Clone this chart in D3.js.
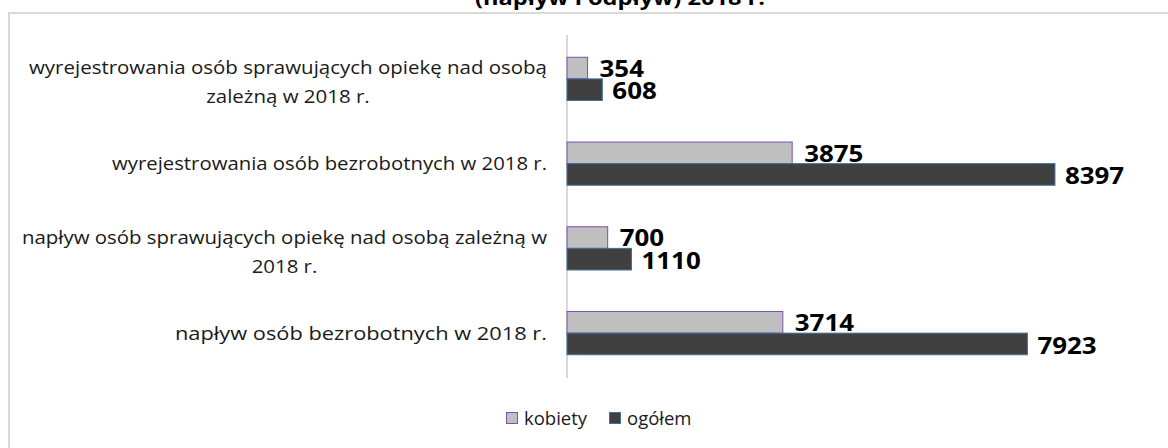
<!DOCTYPE html>
<html>
<head>
<meta charset="utf-8">
<script src="https://cdn.jsdelivr.net/npm/d3@7"></script>
<style>
  body { margin: 0; background: #fff; }
  svg { display: block; font-family: "Open Sans", "Noto Sans", sans-serif; }
</style>
</head>
<body>
<svg width="1168" height="448"></svg>
<script>
// dane
var kategorie = [
  "wyrejestrowania osób sprawujących opiekę nad osobą|zależną w 2018 r.",
  "wyrejestrowania osób bezrobotnych w 2018 r.",
  "napływ osób sprawujących opiekę nad osobą zależną w|2018 r.",
  "napływ osób bezrobotnych w 2018 r."
];
var kobiety = [354, 3875, 700, 3714];
var ogolem = [608, 8397, 1110, 7923];
var serie = ["kobiety", "ogółem"];
var tytul = "(napływ i odpływ) 2018 r.";

var svg = d3.select("svg"),
  width = +svg.attr("width"),
  height = +svg.attr("height");

var kolory = { kobiety: "#bfbfbf", "ogółem": "#404040" };
var obrys = { kobiety: "#7f4fb0", "ogółem": "#41719c" };

// ramka wykresu
svg.append("rect")
  .attr("x", 9).attr("y", 13)
  .attr("width", width + 20).attr("height", height + 20)
  .attr("fill", "none")
  .attr("stroke", "#d9d9d9")
  .attr("stroke-width", 2);

// tytul (przyciety u gory)
svg.append("text")
  .attr("x", 620).attr("y", 5)
  .attr("text-anchor", "middle")
  .attr("font-weight", "bold")
  .attr("font-size", 19)
  .attr("textLength", 290)
  .attr("lengthAdjust", "spacingAndGlyphs")
  .text(tytul);

var x = d3.scaleLinear().domain([0, 9000]).range([567, 1090]);
var y = d3.scaleBand().domain(d3.range(kategorie.length)).range([36.5, 375.5]).paddingInner(0.49).paddingOuter(0.245);
var y2 = d3.scaleBand().domain(serie).range([0, y.bandwidth()]);

// os
svg.append("line")
  .attr("x1", x(0)).attr("x2", x(0))
  .attr("y1", 35).attr("y2", 378)
  .attr("stroke", "#d9d9d9")
  .attr("stroke-width", 2);

var grupy = svg.append("g").selectAll("g")
  .data(kategorie)
  .enter().append("g")
  .attr("transform", function(d, i) { return "translate(0," + y(i) + ")"; });

grupy.each(function(d, i) {
  var g = d3.select(this);
  var wartosci = [kobiety[i], ogolem[i]];
  serie.forEach(function(s, j) {
    g.append("rect")
      .attr("x", x(0))
      .attr("y", y2(s))
      .attr("width", x(wartosci[j]) - x(0))
      .attr("height", y2.bandwidth())
      .attr("fill", kolory[s])
      .attr("stroke", obrys[s])
      .attr("stroke-width", 1);
    var napis = String(wartosci[j]);
    g.append("text")
      .attr("x", x(wartosci[j]) + (j === 0 ? 12 : 10))
      .attr("y", y2(s) + y2.bandwidth() / 2)
      .attr("dy", j === 0 ? "0.38em" : "0.42em")
      .attr("font-weight", "bold")
      .attr("font-size", 23)
      .attr("textLength", napis.length * 14.8)
      .attr("lengthAdjust", "spacingAndGlyphs")
      .attr("fill", "#000")
      .text(napis);
  });
});

// etykiety kategorii
kategorie.forEach(function(k, i) {
  var linie = k.split("|");
  var t = svg.append("text")
    .attr("font-size", 19)
    .attr("fill", "#1a1a1a")
    .attr("text-anchor", "middle");
  var cy = y(i) + y.bandwidth() / 2 + (linie.length > 1 ? 3 : 0);
  var lh = 29;
  var spans = linie.map(function(l, n) {
    return t.append("tspan")
      .attr("y", cy + (n - (linie.length - 1) / 2) * lh)
      .attr("dy", "0.36em")
      .text(l);
  });
  var maxW = d3.max(spans, function(s) { return s.node().getComputedTextLength(); });
  // rozciagniecie do szerokosci z oryginalu
  var skala = (i === 0 ? 518 : i === 1 ? 435 : i === 2 ? 525 : 372) / maxW;
  spans.forEach(function(s) {
    var w = s.node().getComputedTextLength();
    s.attr("textLength", w * skala).attr("lengthAdjust", "spacingAndGlyphs");
  });
  var cx = 547 - maxW * skala / 2;
  spans.forEach(function(s) { s.attr("x", cx); });
});

// legenda
var legenda = svg.append("g").attr("transform", "translate(506,412)");
var lx = [0, 103];
serie.forEach(function(s, j) {
  legenda.append("rect")
    .attr("x", lx[j] + 0.5).attr("y", 0.5)
    .attr("width", 11).attr("height", 11)
    .attr("fill", kolory[s])
    .attr("stroke", obrys[s]);
  legenda.append("text")
    .attr("x", lx[j] + 18).attr("y", 6)
    .attr("dy", "0.36em")
    .attr("font-size", 18.5)
    .attr("fill", "#1a1a1a")
    .text(s);
});
</script>
</body>
</html>
